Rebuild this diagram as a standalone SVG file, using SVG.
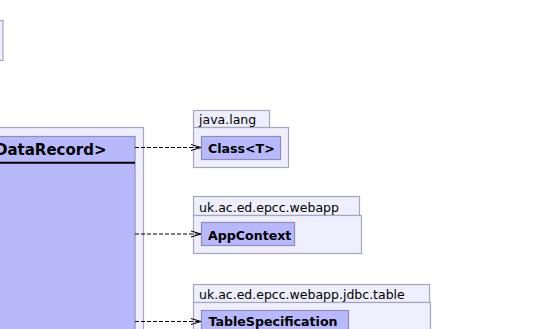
<svg xmlns="http://www.w3.org/2000/svg" width="544" height="329" viewBox="0 0 544 329">
  <style>
    .pkg { fill: #eeeefd; stroke: #a6a6bc; stroke-width: 1.2; }
    .cls { fill: #b8b8fd; stroke: #8e8eb4; stroke-width: 1.2; }
    .pkgname { font-family: "DejaVu Sans", sans-serif; font-size: 12.5px; fill: #000; }
    .clsname { font-family: "DejaVu Sans", sans-serif; font-size: 12.6px; font-weight: bold; fill: #000; }
    .dep { fill: none; stroke: #000; stroke-width: 1; stroke-dasharray: 4 2; }
    .head { fill: none; stroke: #000; stroke-width: 1; }
  </style>

  <!-- partially visible node at the top left -->
  <g id="node-top-left">
    <rect class="pkg" x="-10" y="20.5" width="13" height="40"/>
  </g>

  <!-- owning package with the record class -->
  <g id="node-data-record">
    <rect class="pkg" x="-10" y="127.5" width="153.5" height="220"/>
    <rect class="cls" x="-10" y="136.5" width="145" height="210"/>
    <line x1="-10" y1="162.8" x2="135" y2="162.8" stroke="#000" stroke-width="2"/>
    <text x="106.5" y="155" text-anchor="end" font-family="DejaVu Sans, sans-serif" font-size="15" font-weight="bold">DataRecord&gt;</text>
  </g>

  <!-- java.lang -->
  <g id="node-java-lang">
    <rect class="pkg" x="193.5" y="110.5" width="76" height="17"/>
    <rect class="pkg" x="193.5" y="127.5" width="95" height="40"/>
    <text class="pkgname" x="199" y="123.5">java.lang</text>
    <rect class="cls" x="201.5" y="136.5" width="79" height="23"/>
    <text class="clsname" x="208" y="153">Class&lt;T&gt;</text>
  </g>

  <!-- uk.ac.ed.epcc.webapp -->
  <g id="node-webapp">
    <rect class="pkg" x="193.5" y="196.5" width="166" height="19"/>
    <rect class="pkg" x="193.5" y="215.5" width="168" height="38"/>
    <text class="pkgname" x="199" y="211.5">uk.ac.ed.epcc.webapp</text>
    <rect class="cls" x="201.5" y="222.5" width="93" height="23"/>
    <text class="clsname" x="208" y="239.5">AppContext</text>
  </g>

  <!-- uk.ac.ed.epcc.webapp.jdbc.table -->
  <g id="node-jdbc-table">
    <rect class="pkg" x="193.5" y="284.5" width="236" height="18"/>
    <rect class="pkg" x="193.5" y="302.5" width="237" height="40"/>
    <text class="pkgname" x="199" y="298.5">uk.ac.ed.epcc.webapp.jdbc.table</text>
    <rect class="cls" x="201.5" y="310.5" width="147" height="25"/>
    <text class="clsname" x="208.5" y="326">TableSpecification</text>
  </g>

  <!-- dependency connectors -->
  <g id="connectors">
    <line class="dep" x1="135" y1="147.5" x2="201" y2="147.5"/>
    <polyline class="head" points="191,144.5 201,147.5 191,150.5"/>
    <line class="dep" x1="135" y1="234" x2="201" y2="234"/>
    <polyline class="head" points="191,231 201,234 191,237"/>
    <line class="dep" x1="135" y1="321.5" x2="201" y2="321.5"/>
    <polyline class="head" points="191,318.5 201,321.5 191,324.5"/>
  </g>
</svg>
